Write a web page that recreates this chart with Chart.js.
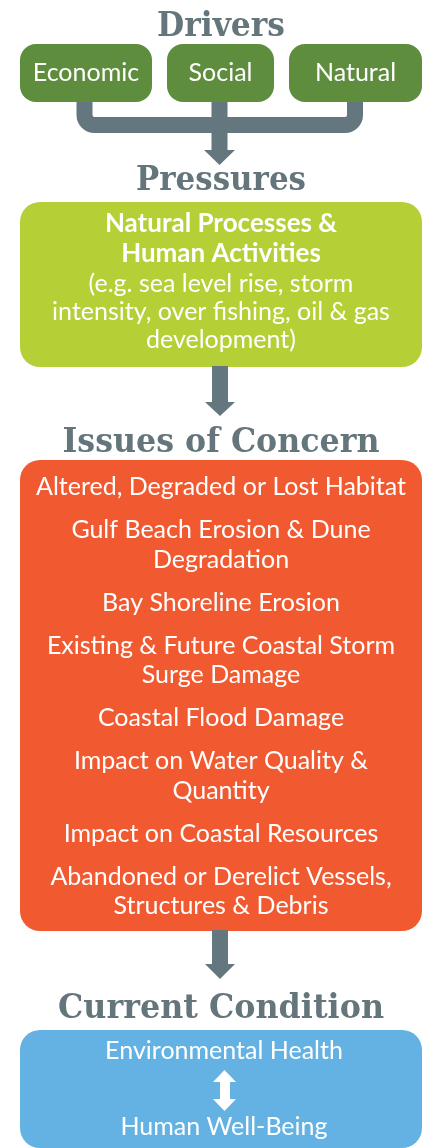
<!DOCTYPE html>
<html>
<head>
<meta charset="utf-8">
<script src="https://cdn.jsdelivr.net/npm/chart.js@4"></script>
<style>
  html, body { margin: 0; padding: 0; background: #ffffff; }
  .chart-card { position: relative; width: 429px; height: 1148px; }
</style>
</head>
<body>
<div class="chart-card"><canvas id="flowChart"></canvas></div>
<script>
/*
  Drivers -> Pressures -> Issues -> Condition flow diagram.
  Text lives in the arrays below, the plugin only places it.
*/

const stageTitles = ["Drivers", "Pressures", "Issues of Concern", "Current Condition"];
const driverLabels = ["Economic", "Social", "Natural"];
const pressureHeadLines = ["Natural Processes &", "Human Activities"];
const pressureNoteLines = ["(e.g. sea level rise, storm", "intensity, over fishing, oil & gas", "development)"];
const issueItems = [
  ["Altered, Degraded or Lost Habitat"],
  ["Gulf Beach Erosion & Dune", "Degradation"],
  ["Bay Shoreline Erosion"],
  ["Existing & Future Coastal Storm", "Surge Damage"],
  ["Coastal Flood Damage"],
  ["Impact on Water Quality &", "Quantity"],
  ["Impact on Coastal Resources"],
  ["Abandoned or Derelict Vessels,", "Structures & Debris"]
];
const conditionLabels = ["Environmental Health", "Human Well-Being"];

// layout, in canvas units (the scales map them to pixels)
const W = 429, H = 1148;
const CX = 221;
const titleFont = "bold 33px 'DejaVu Serif'";
const bodyFont = "25px Lato";
const titleColor = "#64767c";
const arrowColor = "#65777e";
const titleSpots = [
  { y: 36,   w: 128 },
  { y: 190,  w: 170 },
  { y: 452,  w: 317 },
  { y: 1018, w: 326 }
];
const driverBoxes = [
  { x0: 20,  x1: 152 },
  { x0: 167, x1: 274 },
  { x0: 289, x1: 422 }
];

function roundBox(ctx, x0, y0, x1, y1, r) {
  ctx.beginPath();
  ctx.moveTo(x0 + r, y0);
  ctx.arcTo(x1, y0, x1, y1, r);
  ctx.arcTo(x1, y1, x0, y1, r);
  ctx.arcTo(x0, y1, x0, y0, r);
  ctx.arcTo(x0, y0, x1, y0, r);
  ctx.closePath();
  ctx.fill();
}

const flowPlugin = {
  id: "flow",
  afterDraw(chart) {
    const ctx = chart.ctx;
    const sx = v => chart.scales.x.getPixelForValue(v);
    const sy = v => chart.scales.y.getPixelForValue(v);

    function box(x0, y0, x1, y1, r, color) {
      ctx.fillStyle = color;
      roundBox(ctx, sx(x0), sy(y0), sx(x1), sy(y1), r);
    }
    function text(str, x, y, font, color, maxW) {
      ctx.font = font;
      ctx.fillStyle = color;
      ctx.textAlign = "center";
      ctx.textBaseline = "alphabetic";
      ctx.fillText(str, sx(x), sy(y), maxW);
    }
    function downArrow(yTop, yHeadBase, yTip) {
      ctx.fillStyle = arrowColor;
      ctx.fillRect(sx(212), sy(yTop), sx(228) - sx(212), sy(yHeadBase + 1) - sy(yTop));
      ctx.beginPath();
      ctx.moveTo(sx(205), sy(yHeadBase));
      ctx.lineTo(sx(235), sy(yHeadBase));
      ctx.lineTo(sx(220), sy(yTip));
      ctx.closePath();
      ctx.fill();
    }

    ctx.save();

    // titles
    stageTitles.forEach((t, i) => {
      text(t, CX, titleSpots[i].y, titleFont, titleColor, titleSpots[i].w);
    });

    // connector from drivers
    ctx.strokeStyle = arrowColor;
    ctx.lineWidth = 16;
    ctx.lineJoin = "miter";
    ctx.beginPath();
    ctx.moveTo(sx(84.5), sy(98));
    ctx.arcTo(sx(84.5), sy(125), sx(200), sy(125), 10);
    ctx.arcTo(sx(355), sy(125), sx(355), sy(98), 10);
    ctx.lineTo(sx(355), sy(98));
    ctx.stroke();
    ctx.fillStyle = arrowColor;
    ctx.fillRect(sx(211.5), sy(98), 16, sy(151) - sy(98));
    ctx.beginPath();
    ctx.moveTo(sx(204), sy(150));
    ctx.lineTo(sx(235), sy(150));
    ctx.lineTo(sx(219.5), sy(165));
    ctx.closePath();
    ctx.fill();

    // driver boxes
    driverLabels.forEach((lab, i) => {
      const b = driverBoxes[i];
      box(b.x0, 44, b.x1, 102, 16, "#5f8d3e");
      text(lab, (b.x0 + b.x1) / 2, 81, bodyFont, "#ffffff", b.x1 - b.x0 - 10);
    });

    // pressures
    box(20, 202, 422, 367, 20, "#b5cf36");
    let y = 232;
    pressureHeadLines.forEach(l => {
      text(l, CX, y, "bold 26px Lato", "#ffffff", 380);
      y += 29.5;
    });
    y = 292;
    pressureNoteLines.forEach(l => {
      text(l, CX, y, bodyFont, "#ffffff", 380);
      y += 28;
    });
    downArrow(366, 402, 416);

    // issues
    box(20, 460, 422, 931, 20, "#f15a30");
    y = 495;
    issueItems.forEach(item => {
      item.forEach(l => {
        text(l, CX, y, bodyFont, "#ffffff", 384);
        y += 29.5;
      });
      y += 13.5;
    });
    downArrow(930, 964, 979);

    // current condition
    box(20, 1030, 422, 1148, 20, "#63b2e3");
    text(conditionLabels[0], CX + 3, 1059, bodyFont, "#ffffff", 380);
    text(conditionLabels[1], CX + 3, 1135, bodyFont, "#ffffff", 380);
    // double arrow
    ctx.fillStyle = "#ffffff";
    ctx.fillRect(sx(220), sy(1081), sx(230) - sx(220), sy(1100) - sy(1081));
    ctx.beginPath();
    ctx.moveTo(sx(213), sy(1082));
    ctx.lineTo(sx(236), sy(1082));
    ctx.lineTo(sx(224.5), sy(1070));
    ctx.closePath();
    ctx.fill();
    ctx.beginPath();
    ctx.moveTo(sx(213), sy(1099));
    ctx.lineTo(sx(236), sy(1099));
    ctx.lineTo(sx(224.5), sy(1111));
    ctx.closePath();
    ctx.fill();

    ctx.restore();
  }
};

new Chart(document.getElementById("flowChart"), {
  type: "scatter",
  data: { datasets: [{ data: [], pointRadius: 0 }] },
  options: {
    responsive: true,
    maintainAspectRatio: false,
    animation: false,
    events: [],
    layout: { padding: 0 },
    plugins: { legend: { display: false }, tooltip: { enabled: false } },
    scales: {
      x: { type: "linear", min: 0, max: W, display: false },
      y: { type: "linear", min: 0, max: H, reverse: true, display: false }
    }
  },
  plugins: [flowPlugin]
});
</script>
</body>
</html>
